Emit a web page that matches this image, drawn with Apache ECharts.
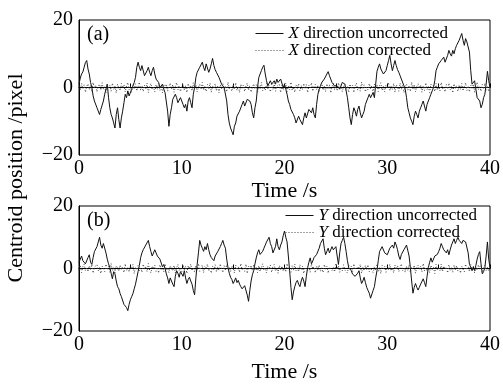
<!DOCTYPE html>
<html>
<head>
<meta charset="utf-8">
<script src="https://cdn.jsdelivr.net/npm/echarts@6/dist/echarts.min.js"></script>
<style>
  html, body { margin: 0; padding: 0; background: #fff; }
  #chart { width: 503px; height: 384px; }
</style>
</head>
<body>
<div id="chart"></div>
<script>
// sampled every 0.125 s, 0..40 s (one row = one second)
const step = 0.125;

// (a) X direction
const xUncorrected = [
  1, 2.8, 4, 4.6, 6, 7.4, 8, 5.5,
  4, 1.5, 0, -2.5, -4, -3.5, -6, -5.5,
  -8, -6.5, -7, -4, -2, -0.5, 1, -3,
  -6, -8, -9, -10.5, -12, -8, -6, -9.5,
  -12, -9, -7, -4.5, -2, -3, -1, -2.5,
  -2, -0.5, 0, 1.5, 3, 6, 7.5, 6,
  5, 6.5, 6, 3.5, 4, 5, 6, 4.5,
  3.5, 5, 6, 4, 2.5, 3, 1.5, 0,
  0.5, 1, -0.5, -1.5, -2, -7, -11.5, -8,
  -6, -3.5, -4, -2, -3, -4.5, -5, -3,
  -4, -5, -6, -5, -7, -4, -3, -4.5,
  -6, -2, 0, 3, 4.5, 5, 6, 5.5,
  7.5, 6, 5, 7, 6.5, 4.5, 5.5, 7,
  8.6, 6.5, 5.3, 4.5, 4, 3, 2.5, 1,
  1.5, 0, 0.5, -4, -8, -10.5, -12, -13,
  -14, -11.5, -10.5, -8.5, -9, -7, -6.5, -5,
  -4, -5.5, -6, -3.5, -3, -4, -5, -7.5,
  -9, -6, -4, 0, 3, 4, 5, 6,
  6.6, 4, 2, 0.5, 1, 2, 1, 1.5,
  2, 1, 2.5, 1.5, 1, 2.5, 2, 0,
  1, -0.5, -2, -4, -5, -6.5, -7, -8,
  -9, -10.5, -10, -8.5, -9.5, -10, -11, -9,
  -7.5, -9, -8.5, -6.5, -7, -7.5, -6, -8,
  -9, -5, -2, -0.5, 0.5, 1.5, 2, 2.5,
  3, 4, 4.7, 3.5, 2.5, 1.5, 1, 0.5,
  0, 0.5, 1, -0.5, 0.5, 1.5, 2, 1,
  -1, -3, -6, -9, -11, -8, -6, -7,
  -8.5, -6.5, -5.5, -7.5, -9, -8, -7, -5,
  -4, -3, -2, -3, -2.5, -1.5, -3, 1,
  4.8, 6, 7, 5.5, 5, 4, 3.5, 5,
  6.5, 8, 9.5, 7, 5, 6.5, 8, 6.5,
  5.3, 4.5, 3.5, 2.5, 2, 0.5, -0.5, -3,
  -6, -7.5, -9, -10, -11, -8.5, -7, -8,
  -9, -7, -6, -5, -4, -5.5, -7, -5,
  -4, -3, -2, -1, 0, 2, 5, 6,
  7, 7.5, 8, 8.5, 9, 7.5, 8, 9.5,
  11, 10, 9.3, 11, 10, 11.5, 12.5, 13,
  14, 15, 16, 14, 12.5, 14.5, 13.5, 12,
  10.5, 5, 1, 0.5, 2, -0.5, -3, -2.5,
  -4, -6, -5, -3, -2, 1, 4.8, 2,
  0
];
const xCorrected = [
  0.5, -0.9, 1.2, -0.4, 0.8, -1.4, 0.3, 1.1,
  -0.7, 0.6, -1.2, 1.5, -0.2, 0.7, -1.3, 0.4,
  1.0, -0.8, 1.4, -0.5, 0.2, -1.5, 0.9, -0.1,
  0.6, -1.1, 1.3, -0.6, 0.4, -1.6, 1.0, -0.3,
  -0.9, 1.2, -0.2, 0.8, -1.3, 0.5, 1.5, -0.7,
  0.3, -1.4, 0.9, -0.4, 1.1, -1.0, 0.2, 1.6,
  -0.8, 0.5, -1.2, 0.7, -0.3, 1.3, -1.5, 0.4,
  1.2, -0.6, 0.1, -1.3, 0.9, -0.5, 1.4, -0.9,
  0.6, -1.6, 0.8, -0.2, 1.0, -1.1, 0.4, 1.3,
  -0.5, 0.9, -1.4, 0.3, 1.5, -0.7, 0.6, -1.2,
  0.2, 1.1, -0.9, 0.5, -1.5, 1.2, -0.3, 0.7,
  -1.0, 1.4, -0.4, 0.8, -1.3, 0.1, 1.0, -0.6,
  1.5, -0.8, 0.3, -1.2, 0.9, -0.5, 1.3, -1.4,
  0.4, -0.2, 1.1, -1.0, 0.6, -1.6, 0.8, -0.3,
  1.2, -0.7, 0.5, -1.3, 1.6, -0.4, 0.2, -1.1,
  0.9, -0.6, 1.4, -0.9, 0.3, -1.5, 1.0, -0.2,
  0.7, -1.2, 0.4, 1.3, -0.8, 0.6, -1.4, 0.1,
  1.1, -0.5, 0.8, -1.6, 0.5, -0.3, 1.5, -1.0,
  0.2, -0.9, 1.2, -0.4, 0.7, -1.3, 0.9, -0.6,
  1.4, -1.1, 0.3, -0.2, 1.0, -1.5, 0.6, -0.8,
  0.5, 1.3, -1.2, 0.4, -0.6, 1.6, -0.9, 0.1,
  -1.4, 0.8, -0.3, 1.1, -1.0, 0.5, -0.7, 1.2,
  -0.4, 0.9, -1.5, 0.6, -0.1, 1.4, -1.1, 0.3,
  1.0, -0.6, 0.7, -1.3, 0.2, 1.5, -0.8, 0.4,
  -1.2, 1.1, -0.5, 0.8, -1.6, 0.3, 1.3, -0.7,
  0.6, -1.0, 1.4, -0.3, 0.9, -1.2, 0.2, 1.1,
  -0.9, 0.4, -1.4, 1.0, -0.2, 0.7, -1.5, 0.5,
  1.3, -0.8, 0.3, -1.1, 1.6, -0.5, 0.8, -1.3,
  0.1, -0.7, 1.2, -0.4, 0.6, -1.6, 1.0, -0.2,
  0.9, -1.2, 0.5, 1.4, -0.9, 0.3, -1.3, 0.7,
  -0.3, 1.5, -1.0, 0.4, -0.6, 1.2, -1.4, 0.8,
  0.2, -1.1, 1.3, -0.5, 0.7, -1.5, 0.4, 1.0,
  -0.8, 0.6, -1.2, 1.6, -0.4, 0.9, -1.3, 0.3,
  1.1, -0.2, 0.8, -1.4, 0.5, -0.9, 1.4, -0.6,
  0.3, -1.5, 1.0, -0.1, 0.7, -1.2, 1.2, -0.8,
  0.6, -1.0, 1.5, -0.4, 0.2, -1.3, 0.9, -0.5,
  1.3, -0.7, 0.4, -1.6, 1.1, -0.3, 0.6, -1.1,
  0.8, -0.5, 1.2, -1.0, 0.3, 1.4, -0.9, 0.5,
  -1.3, 0.7, -0.2, 1.0, -1.4, 0.4, 1.6, -0.6,
  0.2, -1.1, 0.9, -0.5, 1.3, -0.8, 0.5, -1.2,
  0.4
];

// (b) Y direction
const yUncorrected = [
  2, 3, 4, 2.5, 3, 1.5, 2, 3.5,
  4.4, 2, 1.3, 3.5, 5.4, 6, 7, 8.5,
  10, 7.5, 6.5, 8, 7.5, 5, 3, 1.5,
  0.3, -1.5, -3.3, -1, -1.7, -4, -5.8, -6.5,
  -8, -9, -9.5, -11.5, -11, -12.5, -13.5, -11.5,
  -10, -9, -8, -6.5, -5, -3, -1, 1,
  3.5, 5, 6, 5.5, 7.5, 8, 9, 7,
  5.4, 4, 4.4, 6, 5, 4, 3.5, 3,
  2.4, 0.5, 1.3, 0, -1.7, -3, -4.8, -3,
  -3.5, -5, -5.8, -2.5, -0.7, -1.5, -2.8, -1,
  -1.5, -2.5, -0.7, -3, -4.8, -3.5, -2.8, -4,
  -5, -7, -8.4, -3, 1.3, 5, 9, 7.5,
  6.5, 5.5, 7, 6, 8, 6, 4.4, 3.5,
  3, 2.5, 4, 3.5, 5.4, 6, 7, 8,
  9, 7.5, 6.5, 3, 0.3, -1.5, -2.8, -3.5,
  -4.8, -4, -3, -4.5, -3.8, -5, -5.8, -6.5,
  -6.9, -5.5, -6, -8.5, -10.5, -7, -4, -2,
  -0.7, 1.5, 3.4, 5, 6, 4.5, 5, 5.5,
  6.5, 7.5, 8.5, 9, 10, 8, 7, 5,
  4.4, 7, 9.5, 7, 6, 7.5, 8.5, 10.5,
  12, 10, 8.5, 4, -0.7, -6, -10, -7.5,
  -5.8, -4.5, -3.8, -5, -5.8, -4, -2.8, -4,
  -5.8, -2.5, 0.3, 2, 3.4, 1.5, 2.4, 3.5,
  3, 4.5, 4.4, 6.5, 8, 8.5, 9.5, 6.5,
  4.4, 5.5, 6.5, 5, 5.4, 7, 6, 6.5,
  7, 4, 1.3, 5, 8, 9, 10, 8,
  5.4, 2.5, 0.3, 0.5, -0.7, -1.8, -1.5, -2.5,
  -2.8, -1.5, -0.7, -3, -4.8, -4, -2.8, -4.5,
  -6, -7, -7.9, -9.5, -8.9, -7, -5.8, -3,
  -0.7, 2.5, 5.4, 6, 7, 6.5, 5, 5.5,
  4.4, 5, 6.5, 7, 7.5, 6.5, 8.5, 7.5,
  6, 4, 2.9, 4.5, 5, 6, 6.5, 7.5,
  8, 4, 0.3, -4, -7.9, -6, -4.8, -6,
  -6.9, -6, -5, -4.5, -3.3, -4.5, -5.8, -2.5,
  0.3, 2, 3.4, 2, 2.4, 4, 3.5, 4.5,
  5.4, 6.5, 8, 7, 6, 5.5, 5, 6,
  4.4, 6, 7.5, 8.5, 9.5, 8, 9, 10,
  9, 8.5, 8, 9, 9.5, 8.5, 9, 5,
  1.3, 0.5, -0.7, 0.5, -0.7, 1, 3, 4.5,
  5.4, 1.5, -1.7, -1, 0.3, 4, 8.5, 3,
  0.3
];
const yCorrected = [
  -0.4, 1.1, -1.3, 0.6, 1.4, -0.7, 0.2, -1.0,
  0.9, -0.3, 1.3, -1.5, 0.5, -0.1, 1.2, -0.8,
  0.4, -1.6, 0.8, 0.1, -1.0, 1.4, -0.5, 0.7,
  -1.2, 1.6, -0.6, 0.3, -1.4, 0.9, 0.2, -0.9,
  1.1, -0.4, 0.6, -1.3, 1.5, -0.7, 0.3, -1.1,
  0.8, -0.2, 1.3, -1.6, 0.5, -0.5, 1.0, -0.8,
  0.2, -1.2, 1.4, -0.3, 0.7, -1.0, 1.6, -0.6,
  -1.4, 0.8, -0.1, 1.1, -0.9, 0.4, -1.5, 1.2,
  -0.3, 0.6, -1.1, 1.5, -0.5, 0.2, -1.3, 0.9,
  0.5, -0.8, 1.0, -1.4, 0.3, 1.3, -0.6, 0.1,
  -1.0, 1.2, -0.4, 0.7, -1.6, 0.9, -0.2, 1.4,
  -0.7, 0.3, -1.2, 1.0, -0.5, 1.6, -0.9, 0.4,
  1.1, -1.3, 0.6, -0.1, 1.4, -0.8, 0.2, -1.5,
  0.7, -0.4, 1.2, -1.1, 0.5, -0.6, 1.5, -0.2,
  -1.3, 0.9, -0.7, 1.3, -0.3, 0.4, -1.0, 0.8,
  0.1, -1.4, 1.1, -0.5, 0.6, -1.2, 1.6, -0.4,
  0.3, -0.9, 1.4, -1.6, 0.8, -0.2, 1.0, -0.7,
  1.2, -0.5, 0.4, -1.3, 0.9, -1.0, 0.5, 1.5,
  -0.6, 0.2, -1.4, 0.7, -0.3, 1.1, -1.2, 0.6,
  1.3, -0.8, 0.1, -1.5, 1.0, -0.4, 0.8, -0.9,
  0.5, -1.1, 1.6, -0.2, 0.3, -1.3, 0.9, -0.6,
  1.4, -0.7, 0.2, -1.0, 1.2, -0.5, 0.7, -1.6,
  0.4, 1.0, -0.8, 0.3, -1.2, 1.5, -0.1, 0.6,
  -1.4, 0.8, -0.4, 1.1, -0.9, 0.2, -1.3, 1.3,
  -0.2, 0.7, -1.5, 0.5, 1.0, -0.6, 0.3, -1.1,
  1.6, -0.3, 0.9, -1.2, 0.4, -0.8, 1.2, -0.5,
  0.1, -1.4, 1.1, -0.6, 0.7, -1.0, 1.5, -0.3,
  -0.9, 0.6, -0.2, 1.3, -1.5, 0.4, -0.7, 1.0,
  -0.4, 1.2, -1.1, 0.2, 0.8, -1.3, 0.5, -0.6,
  1.4, -0.9, 0.3, -1.6, 1.0, -0.1, 0.6, -1.2,
  0.7, -0.5, 1.3, -0.8, 0.2, -1.4, 1.1, -0.3,
  0.9, -1.0, 0.4, 1.5, -0.7, 0.1, -1.2, 0.8,
  -0.6, 1.2, -1.3, 0.5, -0.2, 1.0, -1.5, 0.3,
  1.1, -0.4, 0.7, -1.1, 1.6, -0.8, 0.2, -0.9,
  0.6, -1.3, 1.0, -0.3, 0.4, -1.6, 1.3, -0.5,
  0.2, -0.7, 1.4, -1.0, 0.8, -0.2, 0.5, -1.4,
  1.2, -0.6, 0.3, -1.2, 1.1, -0.4, 0.9, -0.8,
  0.4, -1.5, 0.7, 0.1, -1.1, 1.4, -0.5, 0.6,
  -1.0, 1.3, -0.3, 0.8, -1.4, 0.5, -0.6, 1.2,
  -0.2, 0.9, -1.3, 0.3, 1.0, -0.7, 0.4, -0.9,
  0.2
];

const xTicks = [0, 10, 20, 30, 40];
const yTicks = [-20, 0, 20];

const FONT = 'Liberation Serif';
const toPairs = (vals) => vals.map((v, i) => [i * step, v]);
const fmtY = (v) => (v < 0 ? '\u2212' + (-v) : String(v));

const chart = echarts.init(document.getElementById('chart'), null, { renderer: 'canvas' });

const grids = [
  { left: 79, top: 20, width: 413, height: 135 },
  { left: 79, top: 206, width: 413, height: 130 },
];

function xAxisFor(i, gap) {
  return {
    gridIndex: i,
    type: 'value',
    min: xTicks[0],
    max: xTicks[xTicks.length - 1],
    interval: 5,
    name: 'Time /s',
    nameLocation: 'middle',
    nameGap: gap,
    nameTextStyle: { fontFamily: FONT, fontSize: 22, color: '#000' },
    axisLine: { show: true, lineStyle: { color: '#000', width: 1 } },
    axisTick: { show: true, inside: true, length: 4, lineStyle: { color: '#000' } },
    axisLabel: {
      margin: 4,
      fontFamily: FONT, fontSize: 20, color: '#000',
      formatter: (v) => (xTicks.includes(v) ? String(v) : ''),
    },
    splitLine: { show: false },
  };
}
function yAxisFor(i) {
  return {
    gridIndex: i,
    type: 'value',
    min: yTicks[0],
    max: yTicks[yTicks.length - 1],
    interval: 20,
    axisLine: { show: true, lineStyle: { color: '#000', width: 1 } },
    axisTick: { show: false },
    axisLabel: { margin: 6, fontFamily: FONT, fontSize: 20, color: '#000', formatter: fmtY },
    splitLine: { show: false },
  };
}

function lineSeries(name, vals, idx, dotted) {
  return {
    name,
    type: 'line',
    xAxisIndex: idx,
    yAxisIndex: idx,
    data: toPairs(vals),
    showSymbol: false,
    symbol: 'none',
    animation: false,
    itemStyle: { color: dotted ? '#444' : '#000' },
    lineStyle: dotted
      ? { color: '#444', width: 1, type: [1, 2] }
      : { color: '#111', width: 1 },
  };
}

const legendText = {
  fontFamily: FONT, fontSize: 17, color: '#000', lineHeight: 16,
  rich: { i: { fontFamily: FONT, fontSize: 17, fontStyle: 'italic', color: '#000' } },
};
const legendFmt = (name) => '{i|' + name[0] + '}' + name.slice(1);
const legendBase = {
  orient: 'vertical', itemGap: 0, itemWidth: 28, itemHeight: 10, padding: 0,
  itemStyle: { opacity: 0 },
  lineStyle: { width: 1 },
  textStyle: legendText, formatter: legendFmt,
};

const option = {
  backgroundColor: '#fff',
  animation: false,
  grid: grids.map((g) => ({ ...g, show: true, borderColor: '#000', borderWidth: 1, backgroundColor: 'transparent' })),
  xAxis: [xAxisFor(0, 20), xAxisFor(1, 30)],
  yAxis: [yAxisFor(0), yAxisFor(1)],
  legend: [
    { ...legendBase, data: ['X direction uncorrected', 'X direction corrected'], left: 255, top: 25 },
    { ...legendBase, data: ['Y direction uncorrected', 'Y direction corrected'], left: 285, top: 207 },
  ],
  graphic: [
    { type: 'text', left: 87, top: 25, style: { text: '(a)', font: '20px "' + FONT + '"', fill: '#000' } },
    { type: 'text', left: 87, top: 211, style: { text: '(b)', font: '20px "' + FONT + '"', fill: '#000' } },
    {
      type: 'text', x: 16, y: 178, rotation: Math.PI / 2,
      style: { text: 'Centroid position /pixel', font: '22px "' + FONT + '"', fill: '#000', align: 'center', verticalAlign: 'middle' },
    },
  ],
  series: [
    lineSeries('X direction uncorrected', xUncorrected, 0, false),
    lineSeries('X direction corrected', xCorrected, 0, true),
    lineSeries('Y direction uncorrected', yUncorrected, 1, false),
    lineSeries('Y direction corrected', yCorrected, 1, true),
  ],
};

chart.setOption(option);
</script>
</body>
</html>
